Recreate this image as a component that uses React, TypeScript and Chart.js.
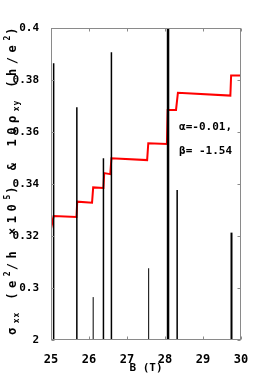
import React, { useEffect, useRef } from 'react';
import { Chart, registerables } from 'chart.js';

Chart.register(...registerables);

// Black sigma_xx spikes (B in T, top value), drawn from the bottom of the axis
const spikeB = [25.07, 25.68, 26.11, 26.38, 26.59, 27.57, 28.08, 28.32, 29.75];
const spikeTop = [0.3864, 0.3695, 0.2965, 0.3499, 0.3907, 0.3076, 0.43, 0.3377, 0.3213];
const spikeWidth = [1.5, 1.5, 1, 1.5, 1.5, 1, 2.5, 1.5, 2];
const SPIKE_BASE = 0.28;

// Red 10*rho_xy staircase
const redB = [25.0, 25.07, 25.67, 25.69, 26.08, 26.11, 26.38, 26.4, 26.56, 26.59, 27.53, 27.56, 28.05, 28.07, 28.29, 28.34, 29.72, 29.74, 30.0];
const redV = [0.3228, 0.3277, 0.3273, 0.3332, 0.3328, 0.3387, 0.3385, 0.3442, 0.3438, 0.3499, 0.3492, 0.3557, 0.3554, 0.3685, 0.3685, 0.3751, 0.374, 0.3817, 0.3817];

const xTicks = [25, 26, 27, 28, 29, 30];
const yTicks = [0.28, 0.3, 0.32, 0.34, 0.36, 0.38, 0.4];

const annotLines = ['α=-0.01,', 'β= -1.54'];
const annotB = 28.37;
const annotV = [0.3619, 0.3527];

const yTitleSegs = [
  { t: 'σ', k: 'n' }, { t: 'xx', k: 'sub' }, { t: ' (e', k: 'n' }, { t: '2', k: 'sup' },
  { t: '/h ', k: 'n' }, { t: '×10', k: 'n' }, { t: '5', k: 'sup' }, { t: ') & 10ρ', k: 'n' },
  { t: 'xy', k: 'sub' }, { t: ' (h/e', k: 'n' }, { t: '2', k: 'sup' }, { t: ')', k: 'n' },
];
const xTitle = 'B (T)';

const MONO = 'DejaVu Sans Mono';

const framePlugin = {
  id: 'frameAndText',
  afterDatasetsDraw(chart: any) {
    const { ctx, chartArea: a, scales } = chart;
    const xs = scales.x, ys = scales.y;
    ctx.save();
    ctx.strokeStyle = '#8a8a8a';
    ctx.lineWidth = 1;
    const L = Math.round(a.left) + 0.5, R = Math.round(a.right) - 0.5;
    const T = Math.round(a.top) + 0.5, B = Math.round(a.bottom) - 0.5;
    ctx.strokeRect(L, T, R - L, B - T);
    ctx.beginPath();
    const tl = 3;
    xTicks.forEach((v) => {
      const px = Math.round(xs.getPixelForValue(v)) + 0.5;
      ctx.moveTo(px, B); ctx.lineTo(px, B - tl);
      ctx.moveTo(px, T); ctx.lineTo(px, T + tl);
    });
    yTicks.forEach((v) => {
      const py = Math.round(ys.getPixelForValue(v)) + 0.5;
      ctx.moveTo(L, py); ctx.lineTo(L + tl, py);
      ctx.moveTo(R, py); ctx.lineTo(R - tl, py);
    });
    ctx.stroke();

    // annotation
    ctx.fillStyle = '#000';
    ctx.font = `bold 11px "${MONO}"`;
    ctx.textBaseline = 'middle';
    ctx.textAlign = 'left';
    annotLines.forEach((s, i) => {
      ctx.fillText(s, xs.getPixelForValue(annotB), ys.getPixelForValue(annotV[i]));
    });
    ctx.restore();

    // rotated y title with sub/superscripts
    ctx.save();
    const fontN = `bold 12px "${MONO}"`;
    const fontS = `bold 8px "${MONO}"`;
    let w0 = 0, nN = 0, nS = 0;
    yTitleSegs.forEach((s) => {
      ctx.font = s.k === 'n' ? fontN : fontS;
      for (const ch of s.t) { w0 += ctx.measureText(ch).width; if (s.k === 'n') nN++; else nS++; }
    });
    const target = 312;
    const spS = 1;
    const spN = (target - w0 - nS * spS) / nN;
    ctx.translate(12, 179);
    ctx.rotate(-Math.PI / 2);
    ctx.fillStyle = '#000';
    ctx.textAlign = 'left';
    ctx.textBaseline = 'alphabetic';
    let x = -target / 2;
    yTitleSegs.forEach((s) => {
      ctx.font = s.k === 'n' ? fontN : fontS;
      const by = s.k === 'n' ? 4 : s.k === 'sub' ? 7 : -2;
      for (const ch of s.t) {
        ctx.fillText(ch, x, by);
        x += ctx.measureText(ch).width + (s.k === 'n' ? spN : spS);
      }
    });
    ctx.restore();
  },
};

export default function App() {
  const ref = useRef<HTMLCanvasElement>(null);
  useEffect(() => {
    if (!ref.current) return;
    const spikeSets = spikeB.map((b, i) => ({
      type: 'line' as const,
      data: [{ x: b, y: SPIKE_BASE }, { x: b, y: spikeTop[i] }],
      borderColor: '#000',
      borderWidth: spikeWidth[i],
      pointRadius: 0,
      fill: false,
      tension: 0,
      borderCapStyle: 'butt' as const,
    }));
    const redSet = {
      type: 'line' as const,
      data: redB.map((b, i) => ({ x: b, y: redV[i] })),
      borderColor: '#ff0000',
      borderWidth: 2,
      pointRadius: 0,
      fill: false,
      tension: 0,
    };
    const chart = new Chart(ref.current, {
      type: 'line',
      data: { datasets: [...spikeSets, redSet] as any },
      options: {
        animation: false,
        responsive: false,
        layout: { padding: { top: 28, right: 25, left: 0, bottom: 0 } },
        plugins: { legend: { display: false }, tooltip: { enabled: false } },
        scales: {
          x: {
            type: 'linear',
            min: 25,
            max: 30,
            grid: { display: false },
            border: { display: false },
            ticks: {
              stepSize: 1,
              padding: 5,
              color: '#000',
              font: { family: MONO, size: 12, weight: 'bold' },
            },
            title: {
              display: true,
              text: xTitle,
              color: '#000',
              font: { family: MONO, size: 11, weight: 'bold' },
              padding: { top: 0, bottom: 8 },
            },
            afterFit: (s: any) => { s.height = 43; s.paddingLeft = 0; s.paddingRight = 0; },
          },
          y: {
            type: 'linear',
            min: 0.28,
            max: 0.4,
            grid: { display: false },
            border: { display: false },
            ticks: {
              stepSize: 0.02,
              padding: 4,
              color: '#000',
              font: { family: MONO, size: 11, weight: 'bold' },
              callback: (v: any) => {
                const n = Number(v);
                if (Math.abs(n - 0.28) < 1e-6) return '2';
                return String(parseFloat(n.toFixed(2)));
              },
            },
            afterFit: (s: any) => { s.width = 51; s.paddingTop = 0; s.paddingBottom = 0; },
          },
        },
      } as any,
      plugins: [framePlugin],
    });
    return () => chart.destroy();
  }, []);
  return (
    <div style={{ position: 'absolute', left: 0, top: 0, width: 266, height: 383, background: '#fff' }}>
      <canvas ref={ref} width={266} height={383} />
    </div>
  );
}
